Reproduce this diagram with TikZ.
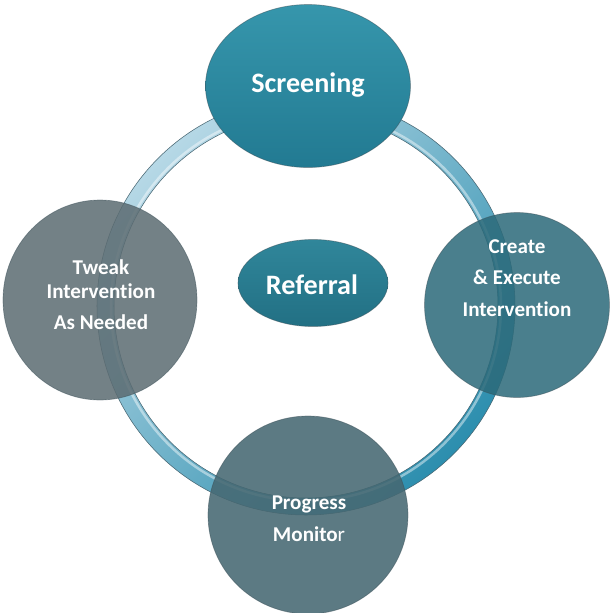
\documentclass[tikz,border=0pt]{standalone}
\usepackage{fontspec}
\setmainfont{Carlito}[Ligatures=NoCommon]
\usetikzlibrary{shapes.geometric}

\definecolor{ringlight}{RGB}{182,216,230}
\definecolor{ringmid}{RGB}{76,172,200}
\definecolor{ringdark}{RGB}{44,142,174}
\definecolor{ringedge}{RGB}{70,100,112}
\definecolor{scrtop}{RGB}{54,150,172}
\definecolor{scrbot}{RGB}{34,122,146}
\definecolor{reftop}{RGB}{48,134,154}
\definecolor{refbot}{RGB}{34,112,132}
\definecolor{crtfill}{RGB}{44,106,122}
\definecolor{twkfill}{RGB}{92,108,114}
\definecolor{prgfill}{RGB}{70,104,114}
\definecolor{rimgray}{RGB}{60,80,88}

\begin{document}
\begin{tikzpicture}[x=0.02cm,y=-0.02cm,
    bubble/.style={ellipse,inner sep=0pt,draw=rimgray,draw opacity=0.5,line width=0.4pt},
    caption/.style={text=white,align=center,font=\bfseries\fontsize{12}{18}\selectfont},
    bigcaption/.style={text=white,font=\bfseries\fontsize{16}{20}\selectfont}]
	\useasboundingbox (0,0) rectangle (613,613);
	% glass ring behind everything
	\path[even odd rule,draw=ringedge,line width=0.3pt,
	      left color=ringlight,middle color=ringmid,right color=ringdark,shading angle=45]
	  (306,306) circle [radius=209] (306,306) circle [radius=192];
	\draw[line width=0.05cm,white,opacity=0.45] (306,306) circle [radius=195];
	% the four stages
	\node[bubble,fill=twkfill,fill opacity=0.86,minimum width=3.88cm,minimum height=4cm] (twk) at (100,300) {};
	\node[bubble,fill=crtfill,fill opacity=0.86,minimum width=3.7cm,minimum height=3.7cm] (crt) at (517,305) {};
	\node[bubble,fill=prgfill,fill opacity=0.88,minimum width=4cm,minimum height=3.96cm] (prg) at (308,515) {};
	\node[bubble,top color=scrtop,bottom color=scrbot,minimum width=4.1cm,minimum height=3.26cm] (scr) at (308,86) {};
	% centre
	\node[bubble,top color=reftop,bottom color=refbot,minimum width=3cm,minimum height=1.74cm] (ref) at (313,283) {};
	% labels
	\node[bigcaption] (scr-text) at (308,85) {Screening};
	\node[bigcaption] (ref-text) at (312,285) {Referral};
	\node[caption] (crt-text) at (517,278) {Create\\\& Execute\\Intervention};
	\node[caption] (twk-text) at (101,295) {Tweak\\[-4.5pt]Intervention\\As Needed};
	\node[caption] (prg-text) at (309,519) {Progress\\Monito{\mdseries r}};
\end{tikzpicture}
\end{document}
